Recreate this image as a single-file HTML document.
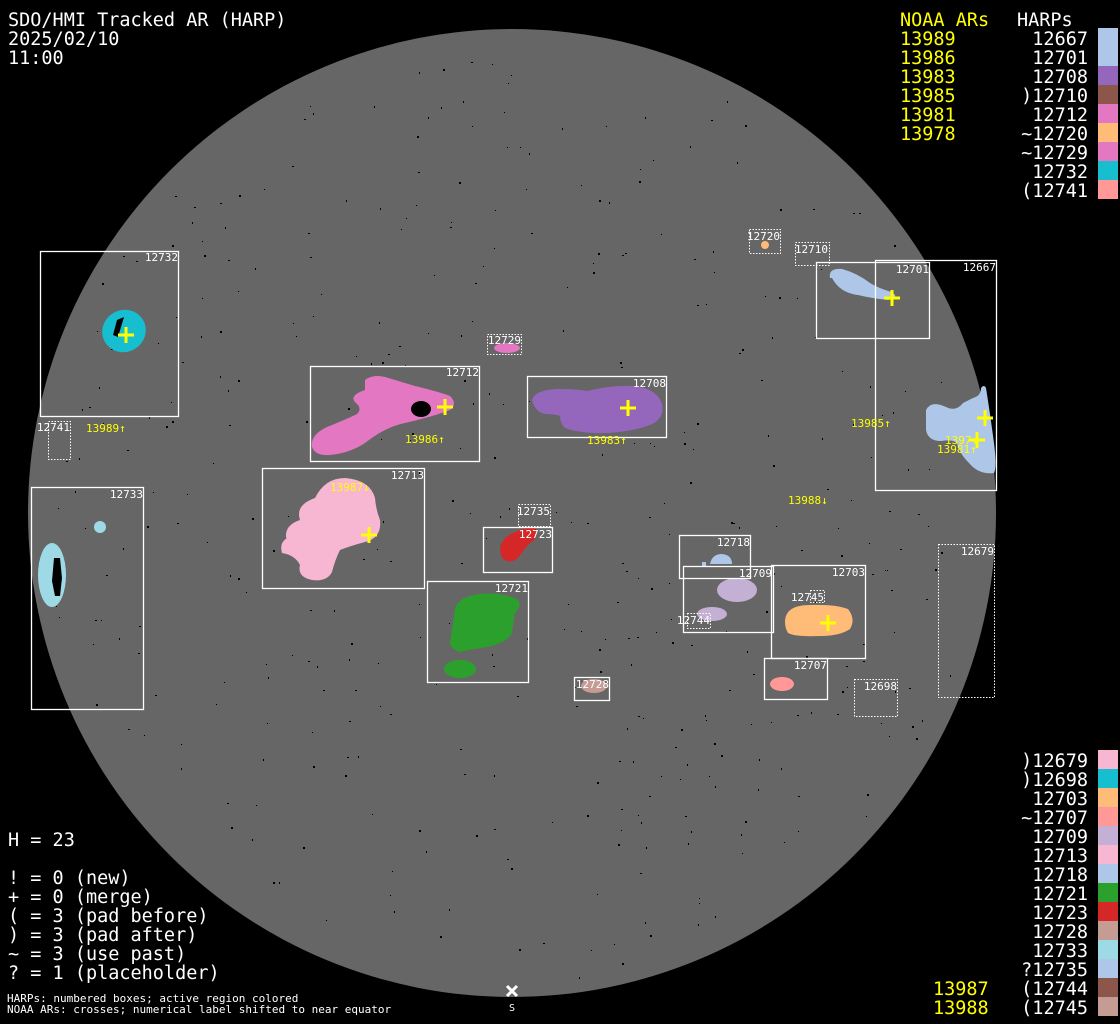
<!DOCTYPE html>
<html><head><meta charset="utf-8"><style>
html,body{margin:0;padding:0;background:#000;}
svg{display:block}
.m{font-family:"DejaVu Sans Mono","Liberation Mono",monospace;}
</style></head><body>
<svg id="s" width="1120" height="1024" viewBox="0 0 1120 1024" xmlns="http://www.w3.org/2000/svg">
<rect width="1120" height="1024" fill="#000"/>
<circle cx="512" cy="513" r="484" fill="#666"/>
<g id="dots" fill="#000"></g>

<!-- blobs -->
<ellipse cx="124" cy="331" rx="22" ry="21" fill="#17becf" transform="rotate(-30 124 331)"/>
<path d="M117,320 l7,-3 l-6,20 l-5,-2z" fill="#000"/>
<path d="M365,380 q8,-6 20,-3 q10,3 30,9 q25,6 35,10 q8,8 0,14 q-15,6 -45,13 q-20,4 -40,20 q-15,10 -35,12 q-15,1 -18,-8 q-2,-12 15,-20 q20,-8 30,-13 q5,-5 0,-10 q-10,-8 8,-14z" fill="#e377c2"/>
<ellipse cx="421" cy="409" rx="10" ry="8" fill="#000"/>
<ellipse cx="507" cy="348" rx="13" ry="5" fill="#e377c2"/>
<path d="M532,400 q3,-10 25,-11 q20,0 30,2 q25,-6 45,-5 q25,2 30,18 q3,15 -12,21 q-25,9 -55,8 q-20,-1 -30,-5 q-5,-5 -5,-12 q-5,-2 -15,-2 q-10,-2 -13,-14z" fill="#9467bd"/>
<circle cx="765" cy="245" r="4" fill="#ffbb78"/>
<path d="M830,278 q-2,-10 12,-9 q15,4 28,14 q10,6 22,9 q8,6 -4,8 q-18,-2 -30,-5 q-18,-2 -26,-17z" fill="#aec7e8"/>
<path d="M926,410 q5,-10 20,-3 q10,5 17,-4 q6,-3 10,-5 q8,-2 8,-10 q3,-4 5,0 q4,25 8,55 q3,25 0,30 q-15,2 -25,-10 q-10,-10 -12,-20 q-5,-4 -16,-2 q-13,0 -15,-11z" fill="#aec7e8"/>
<path d="M300,520 q-5,-15 15,-22 q10,-20 30,-20 q25,2 30,20 q1,12 5,22 q2,18 -15,22 q-15,4 -25,8 q-5,10 -8,22 q-5,10 -20,8 q-15,-3 -12,-15 q-5,-10 -18,-12 q-3,-10 5,-15 q5,-5 13,2z" fill="#f7b6d2"/>
<path d="M300,520 q-15,5 -14,17 q3,12 22,12 q0,-15 -8,-29z" fill="#f7b6d2"/>
<ellipse cx="52" cy="575" rx="14" ry="32" fill="#9edae5"/>
<path d="M54,558 l6,0 l2,20 l-2,18 l-5,0 l-3,-15z" fill="#000"/>
<circle cx="100" cy="527" r="6" fill="#9edae5"/>
<path d="M500,547 q3,-10 15,-15 q10,-5 20,-4 q5,10 -5,15 q-5,5 -12,15 q-10,8 -17,-2z" fill="#d62728"/>
<path d="M455,608 q5,-12 25,-14 q20,-2 37,5 q6,6 -2,14 q-2,10 -3,20 q-5,10 -25,14 q-20,3 -27,5 q-10,-3 -10,-10 q2,-10 5,-34z" fill="#2ca02c"/>
<ellipse cx="460" cy="669" rx="16" ry="9" fill="#2ca02c"/>
<path d="M710,564 q2,-10 12,-10 q10,1 10,10z" fill="#aec7e8"/>
<rect x="702" y="562" width="4" height="4" fill="#aec7e8"/>
<ellipse cx="737" cy="590" rx="20" ry="12" fill="#c5b0d5"/>
<ellipse cx="712" cy="614" rx="15" ry="7" fill="#c5b0d5"/>
<path d="M785,622 q0,-17 25,-17 q25,-1 38,4 q8,10 2,20 q-10,7 -30,7 q-25,1 -32,-3 q-3,-5 -3,-11z" fill="#ffbb78"/>
<ellipse cx="782" cy="684" rx="12" ry="7" fill="#ff9896"/>
<ellipse cx="594" cy="686" rx="13" ry="7" fill="#c49c94"/>

<!-- boxes -->
<g fill="none" stroke="#fff" stroke-width="1.3">
<rect x="40.5" y="251.5" width="138" height="165"/>
<rect x="310.5" y="366.5" width="169" height="95"/>
<rect x="527.5" y="376.5" width="139" height="61"/>
<rect x="816.5" y="262.5" width="113" height="76"/>
<rect x="875.5" y="260.5" width="121" height="230"/>
<rect x="31.5" y="487.5" width="112" height="222"/>
<rect x="262.5" y="468.5" width="162" height="120"/>
<rect x="483.5" y="527.5" width="69" height="45"/>
<rect x="427.5" y="581.5" width="101" height="101"/>
<rect x="679.5" y="535.5" width="71" height="43"/>
<rect x="683.5" y="566.5" width="90" height="66"/>
<rect x="771.5" y="565.5" width="94" height="93"/>
<rect x="764.5" y="658.5" width="63" height="41"/>
<rect x="574.5" y="677.5" width="35" height="23"/>
</g>
<g fill="none" stroke="#fff" stroke-width="1" stroke-dasharray="1.5,1.5">
<rect x="48.5" y="421.5" width="22" height="38"/>
<rect x="487.5" y="334.5" width="34" height="20"/>
<rect x="749.5" y="229.5" width="31" height="24"/>
<rect x="795.5" y="242.5" width="34" height="23"/>
<rect x="518.5" y="504.5" width="32" height="22"/>
<rect x="810.5" y="590.5" width="14" height="12"/>
<rect x="687.5" y="613.5" width="23" height="15"/>
<rect x="854.5" y="679.5" width="43" height="37"/>
<rect x="938.5" y="544.5" width="56" height="153"/>
</g>
<g class="m" fill="#fff" font-size="11" text-anchor="end">
<text x="178" y="261">12732</text>
<text x="70" y="431">12741</text>
<text x="479" y="376">12712</text>
<text x="521" y="344">12729</text>
<text x="666" y="387">12708</text>
<text x="780" y="240">12720</text>
<text x="828" y="253">12710</text>
<text x="929" y="273">12701</text>
<text x="996" y="271">12667</text>
<text x="143" y="498">12733</text>
<text x="424" y="479">12713</text>
<text x="550" y="515">12735</text>
<text x="552" y="538">12723</text>
<text x="528" y="592">12721</text>
<text x="750" y="546">12718</text>
<text x="772" y="577">12709</text>
<text x="865" y="576">12703</text>
<text x="824" y="601">12745</text>
<text x="710" y="624">12744</text>
<text x="827" y="669">12707</text>
<text x="609" y="688">12728</text>
<text x="897" y="690">12698</text>
<text x="994" y="555">12679</text>
</g>
<g class="m" fill="#ff0" font-size="11">
<text x="86" y="432">13989↑</text>
<text x="405" y="443">13986↑</text>
<text x="587" y="444">13983↑</text>
<text x="851" y="427">13985↑</text>
<text x="788" y="504">13988↓</text>
<text x="330" y="491">13987↓</text>
<text x="945" y="444">1397↑</text>
<text x="937" y="453">13981↑</text>
</g>
<g stroke="#ff0" stroke-width="3">
<path d="M118,335h16M126,327v16"/>
<path d="M437,407h16M445,399v16"/>
<path d="M620,408h16M628,400v16"/>
<path d="M884,298h16M892,290v16"/>
<path d="M977,418h16M985,410v16"/>
<path d="M969,440h16M977,432v16"/>
<path d="M361,535h16M369,527v16"/>
<path d="M820,623h16M828,615v16"/>
</g>
<path d="M507,986l10,10M517,986l-10,10" stroke="#fff" stroke-width="3"/>
<text x="512" y="1011" class="m" fill="#fff" font-size="10" text-anchor="middle">S</text>

<g class="m" fill="#fff" font-size="18.5">
<text x="8" y="26">SDO/HMI Tracked AR (HARP)</text>
<text x="8" y="45">2025/02/10</text>
<text x="8" y="64">11:00</text>
<text x="8" y="846">H = 23</text>
<text x="8" y="884">! = 0 (new)</text>
<text x="8" y="903">+ = 0 (merge)</text>
<text x="8" y="922">( = 3 (pad before)</text>
<text x="8" y="941">) = 3 (pad after)</text>
<text x="8" y="960">~ = 3 (use past)</text>
<text x="8" y="979">? = 1 (placeholder)</text>
<text x="1017" y="26">HARPs</text>
</g>
<g class="m" fill="#fff" font-size="11">
<text x="7" y="1002">HARPs: numbered boxes; active region colored</text>
<text x="7" y="1013">NOAA ARs: crosses; numerical label shifted to near equator</text>
</g>
<g class="m" fill="#ff0" font-size="18.5">
<text x="900" y="26">NOAA ARs</text>
<text x="900" y="45">13989</text>
<text x="900" y="64">13986</text>
<text x="900" y="83">13983</text>
<text x="900" y="102">13985</text>
<text x="900" y="121">13981</text>
<text x="900" y="140">13978</text>
<text x="933" y="995">13987</text>
<text x="933" y="1014">13988</text>
</g>
<g id="leg" class="m" fill="#fff" font-size="18.5" text-anchor="end"></g>
</svg>
<script>
(function(){
var NS="http://www.w3.org/2000/svg";
var top=[["12667","#aec7e8"],["12701","#aec7e8"],["12708","#9467bd"],[")12710","#8c564b"],["12712","#e377c2"],["~12720","#ffbb78"],["~12729","#e377c2"],["12732","#17becf"],["(12741","#ff9896"]];
var bot=[[")12679","#f7b6d2"],[")12698","#17becf"],["12703","#ffbb78"],["~12707","#ff9896"],["12709","#c5b0d5"],["12713","#f7b6d2"],["12718","#aec7e8"],["12721","#2ca02c"],["12723","#d62728"],["12728","#c49c94"],["12733","#9edae5"],["?12735","#aec7e8"],["(12744","#8c564b"],["(12745","#c49c94"]];
var s=document.getElementById("s"),g=document.getElementById("leg");
function row(lbl,col,y){
 var r=document.createElementNS(NS,"rect");r.setAttribute("x",1098);r.setAttribute("y",y);r.setAttribute("width",20);r.setAttribute("height",19);r.setAttribute("fill",col);s.appendChild(r);
 var t=document.createElementNS(NS,"text");t.setAttribute("x",1088);t.setAttribute("y",y+17);t.textContent=lbl;g.appendChild(t);
}
top.forEach(function(a,i){row(a[0],a[1],28+i*19);});
bot.forEach(function(a,i){row(a[0],a[1],750+i*19);});
var d=document.getElementById("dots"),seed=7;
function rnd(){seed=(seed*16807)%2147483647;return seed/2147483647;}
for(var i=0;i<600;i++){
 var x=28+rnd()*968,y=29+rnd()*968,dx=x-512,dy=y-513;
 if(dx*dx+dy*dy>470*470)continue;
 var r=document.createElementNS(NS,"rect");r.setAttribute("x",Math.round(x));r.setAttribute("y",Math.round(y));
 r.setAttribute("width",1+Math.floor(rnd()*1.6));r.setAttribute("height",1+Math.floor(rnd()*1.6));d.appendChild(r);
}
})();
</script>
</body></html>
